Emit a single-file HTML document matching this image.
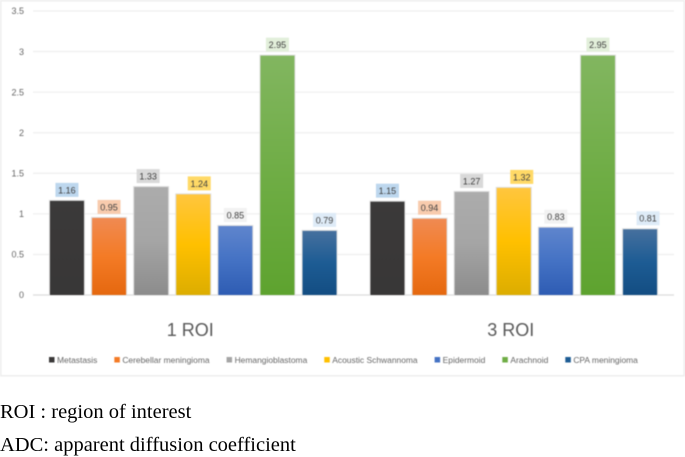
<!DOCTYPE html>
<html lang="en">
<head>
<meta charset="utf-8">
<title>ADC by tumour type, 1 ROI and 3 ROI</title>
<style>
html,body{margin:0;padding:0;background:#fff;width:685px;height:455px;overflow:hidden}
svg{display:block}
#chart text{font-family:"Liberation Sans",sans-serif}
#chart{filter:blur(.45px)}
.caption{position:absolute;left:0;font:20.5px/24px "Liberation Serif",serif;color:#000;white-space:nowrap;filter:blur(.3px)}
</style>
</head>
<body>
<svg id="chart" width="685" height="380" viewBox="0 0 685 380" xmlns="http://www.w3.org/2000/svg">
<defs id="defs"></defs>
<rect x="0.75" y="0.75" width="683.5" height="375" fill="#fff" stroke="#eeeeee" stroke-width="1.5"/>
</svg>
<div class="caption" style="top:400px">ROI : region of interest</div>
<div class="caption" style="top:433px">ADC: apparent diffusion coefficient</div>
<script>
const groups = ['1 ROI', '3 ROI'];
const seriesNames = ['Metastasis', 'Cerebellar meningioma', 'Hemangioblastoma', 'Acoustic Schwannoma', 'Epidermoid', 'Arachnoid', 'CPA meningioma'];
const roi1Values = [1.16, 0.95, 1.33, 1.24, 0.85, 2.95, 0.79];
const roi3Values = [1.15, 0.94, 1.27, 1.32, 0.83, 2.95, 0.81];
const yTicks = [0, 0.5, 1, 1.5, 2, 2.5, 3, 3.5];
const yTickLabels = ['0', '0.5', '1', '1.5', '2', '2.5', '3', '3.5'];

(function () {
  const svg = document.getElementById('chart');
  const defs = document.getElementById('defs');
  const NS = 'http://www.w3.org/2000/svg';
  const plotLeft = 33, plotRight = 674, baseY = 295, unitPx = 81.14;
  const yScale = v => baseY - v * unitPx;
  const groupWidth = (plotRight - plotLeft) / groups.length;
  const pitch = 42.1, barW = 34;
  const barCenter = (g, s) => plotLeft + groupWidth * (g + 0.5) + (s - (seriesNames.length - 1) / 2) * pitch;
  const values = [roi1Values, roi3Values];
  const gradients = [
    ['#3b3a3a', '#3a3838', '#383737'],
    ['#f08a52', '#f47b26', '#e5680f'],
    ['#acacac', '#a5a5a5', '#8c8c8c'],
    ['#ffc63e', '#ffc000', '#dcad00'],
    ['#5f85cd', '#4472c4', '#2e5cb3'],
    ['#82b660', '#6fad45', '#5ea32f'],
    ['#46709e', '#1d5c94', '#134d82']
  ];
  const legendColors = ['#3a3838', '#f47b26', '#a5a5a5', '#ffc000', '#4472c4', '#6fad45', '#1d5c94'];
  const labelFills = ['#bdd7ee', '#f8cbad', '#d9d9d9', '#ffd966', '#f2f2f2', '#e2efda', '#deebf7'];
  const labelShift = [[0, 0, -3, 6, 0, 0, 5], [0, 0, 0, 8, 0, 0, 8]];

  function make(tag, attrs, text) {
    const el = document.createElementNS(NS, tag);
    for (const k in attrs) el.setAttribute(k, attrs[k]);
    if (text !== undefined) el.textContent = text;
    return el;
  }

  gradients.forEach((g, i) => {
    const lg = make('linearGradient', { id: 'grad' + i, x1: 0, y1: 0, x2: 0, y2: 1 });
    lg.appendChild(make('stop', { offset: '0', 'stop-color': g[0] }));
    lg.appendChild(make('stop', { offset: '0.5', 'stop-color': g[1] }));
    lg.appendChild(make('stop', { offset: '1', 'stop-color': g[2] }));
    defs.appendChild(lg);
  });

  yTicks.forEach((t, i) => {
    const y = yScale(t);
    const line = make('line', { x1: plotLeft, x2: plotRight, y1: y, y2: y, stroke: t === 0 ? '#dcdcdc' : '#efefef', 'stroke-width': 1.3 });
    
    
    svg.appendChild(line);
    const lab = make('text', { x: 24, y: y + 3.2, 'text-anchor': 'end', 'font-size': 9, fill: '#666' }, yTickLabels[i]);
    
    
    svg.appendChild(lab);
  });

  groups.forEach((name, g) => {
    values[g].forEach((v, s) => {
      const cx = barCenter(g, s);
      const top = yScale(v);
      const shadow = make('rect', { x: cx - barW / 2 - 1, y: top - 1, width: barW + 2, height: baseY - top + 1, fill: '#dedede' });
      
      
      svg.appendChild(shadow);
      const bar = make('rect', { x: cx - barW / 2, y: top, width: barW, height: baseY - top, fill: 'url(#grad' + s + ')' });
      
      
      svg.appendChild(bar);
      const lx = cx + labelShift[g][s];
      const bg = make('rect', { x: lx - 11.5, y: top - 18, width: 23, height: 14, fill: labelFills[s] });
      
      
      svg.appendChild(bg);
      const txt = make('text', { x: lx, y: top - 7.6, 'text-anchor': 'middle', 'font-size': 9, fill: '#404040' }, v.toFixed(2));
      
      
      svg.appendChild(txt);
    });
    const cat = make('text', { x: plotLeft + groupWidth * (g + 0.5) - 3, y: 336, 'text-anchor': 'middle', 'font-size': 18, fill: '#595959' }, name);
    
    
    svg.appendChild(cat);
  });

  let x = 49;
  seriesNames.forEach((name, i) => {
    const sw = make('rect', { x: x, y: 357, width: 5.5, height: 5.5, fill: legendColors[i] });
    
    
    svg.appendChild(sw);
    const t = make('text', { x: x + 8, y: 363, 'font-size': 8.45, fill: '#666' }, name);
    
    
    svg.appendChild(t);
    x += 8 + t.getComputedTextLength() + 17;
  });
})();
</script>
</body>
</html>
